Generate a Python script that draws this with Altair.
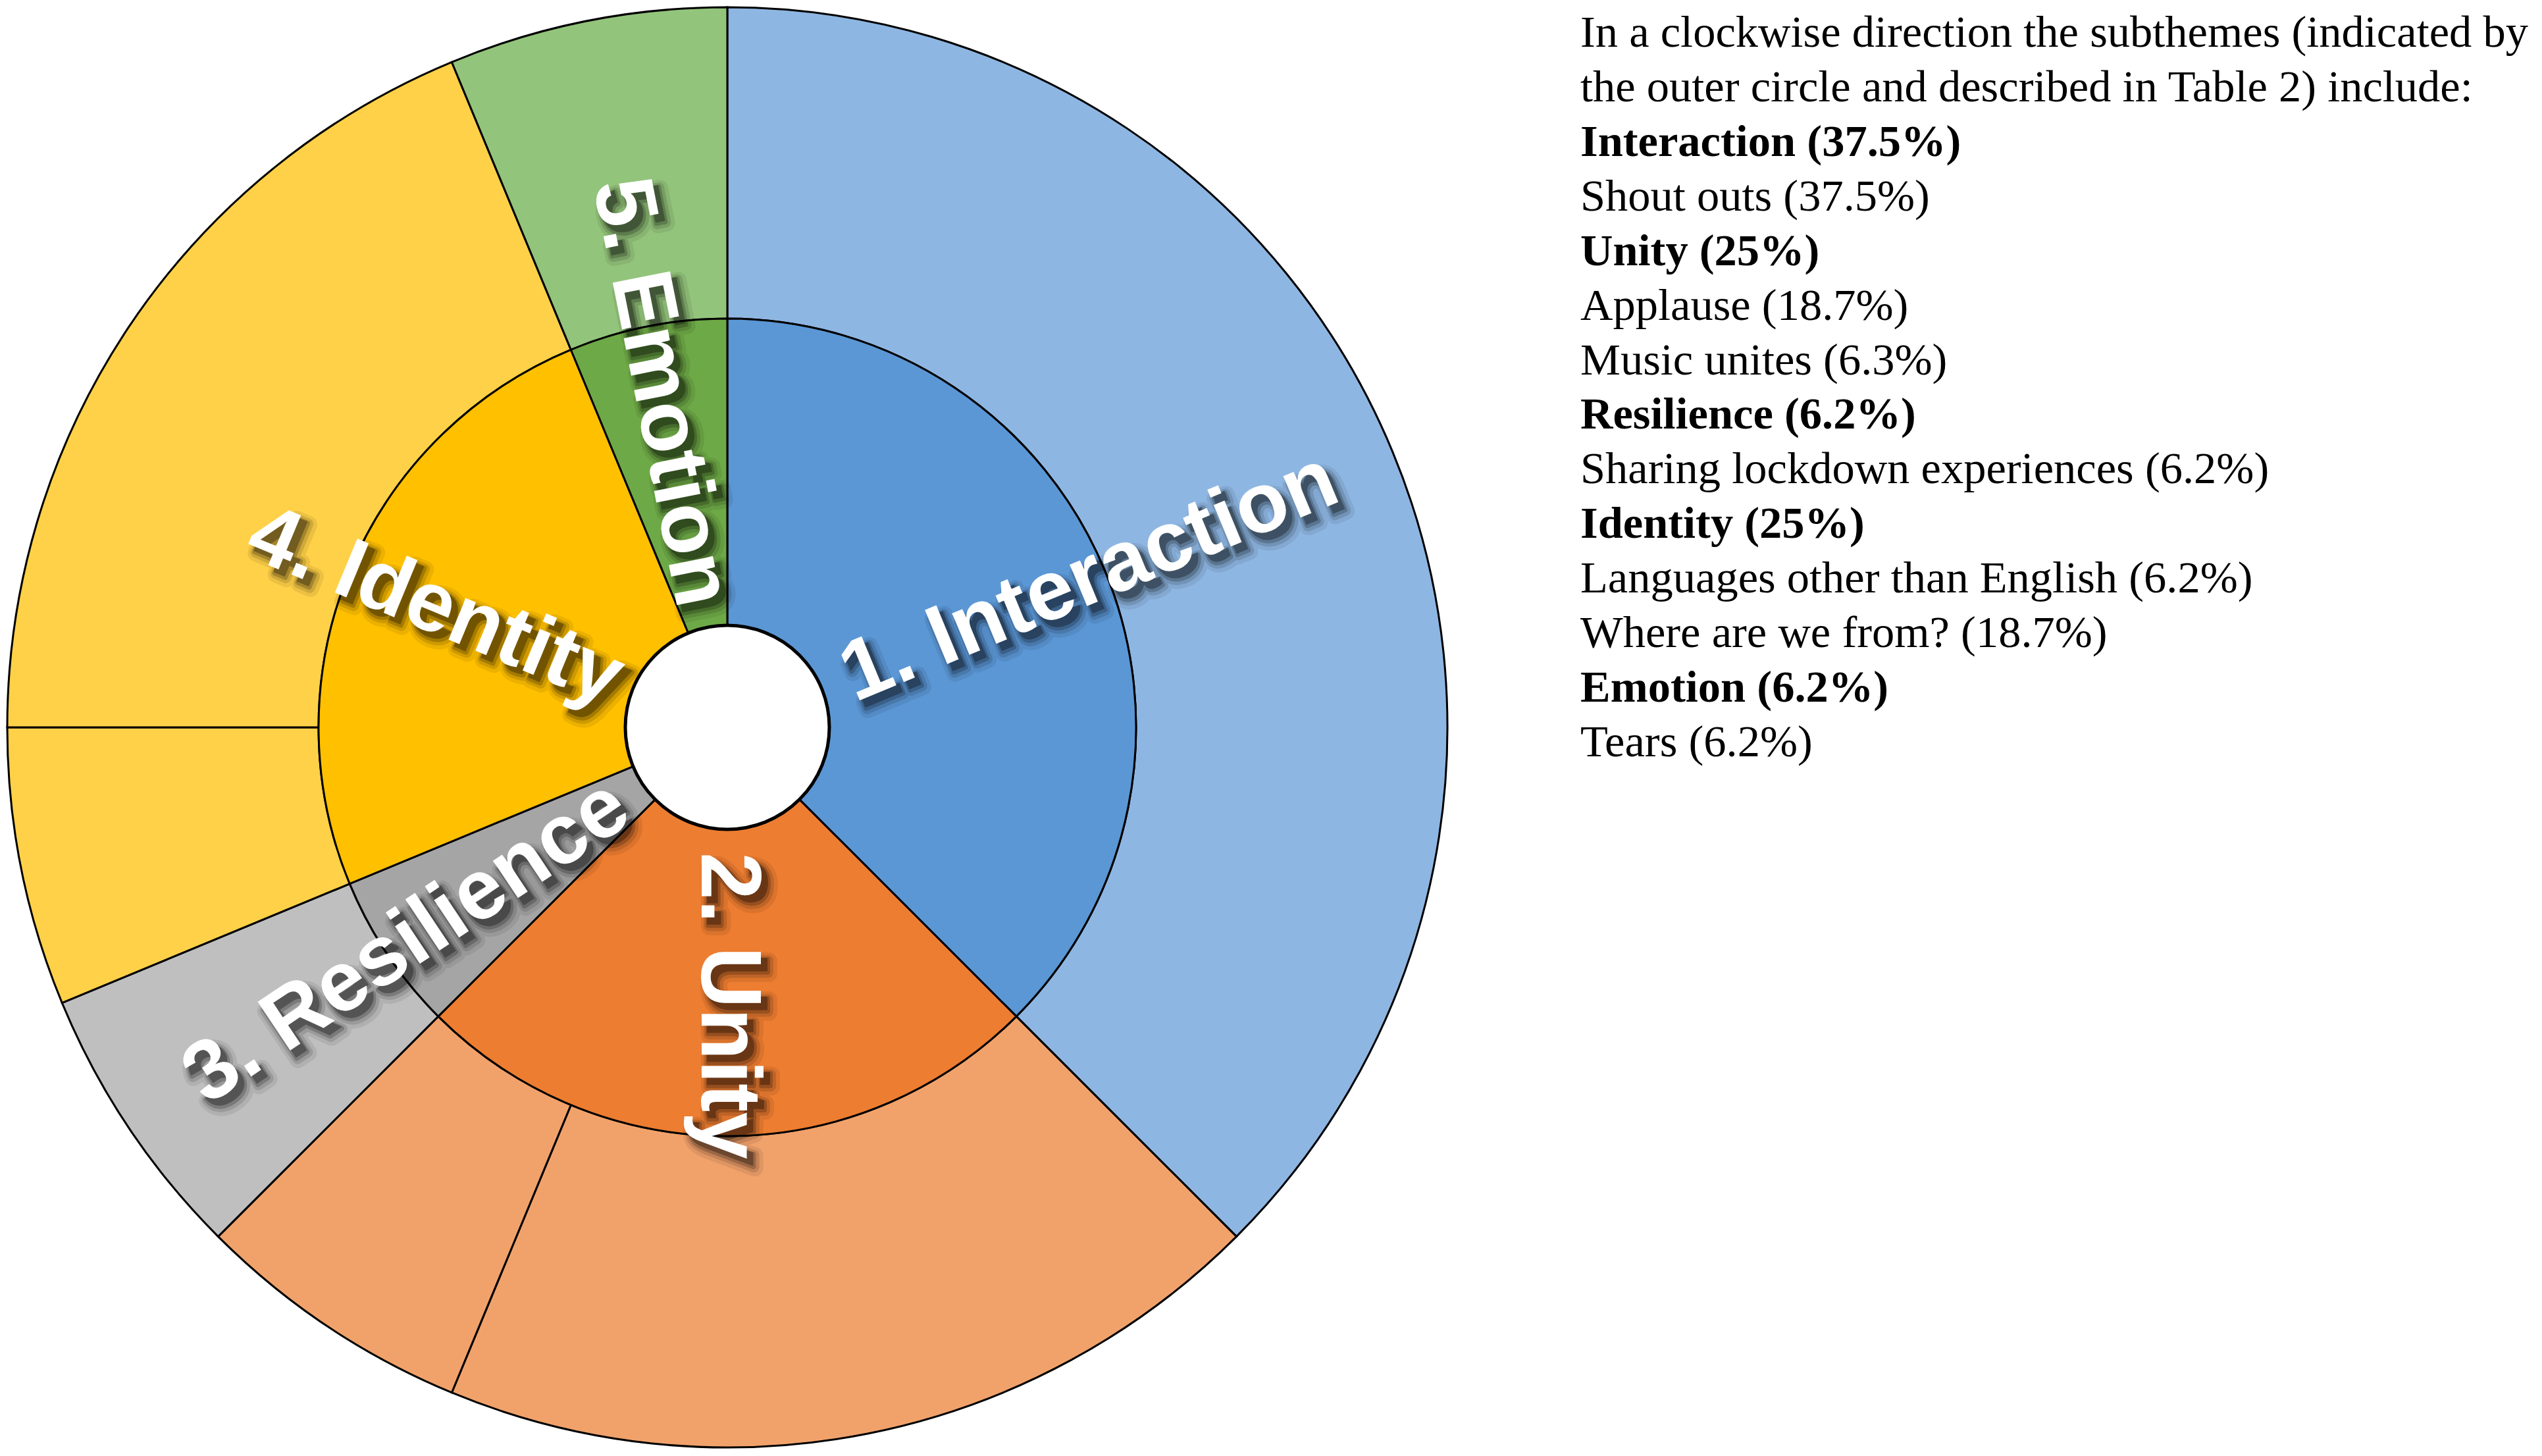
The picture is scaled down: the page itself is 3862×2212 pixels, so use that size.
import math
import altair as alt
import pandas as pd

# ---------------- data ----------------
themes = ["Interaction", "Unity", "Resilience", "Identity", "Emotion"]
theme_share = [37.5, 25.0, 6.25, 25.0, 6.25]
theme_labels = ["1. Interaction", "2. Unity", "3. Resilience", "4. Identity", "5. Emotion"]

subthemes = ["Shout outs", "Applause", "Music unites", "Sharing lockdown experiences",
             "Languages other than English", "Where are we from?", "Tears"]
sub_parent = ["Interaction", "Unity", "Unity", "Resilience", "Identity", "Identity", "Emotion"]
sub_share = [37.5, 18.75, 6.25, 6.25, 6.25, 18.75, 6.25]

legend_lines = [
    "In a clockwise direction the subthemes (indicated by",
    "the outer circle and described in Table 2) include:",
    "Interaction (37.5%)",
    "Shout outs (37.5%)",
    "Unity (25%)",
    "Applause (18.7%)",
    "Music unites (6.3%)",
    "Resilience (6.2%)",
    "Sharing lockdown experiences (6.2%)",
    "Identity (25%)",
    "Languages other than English (6.2%)",
    "Where are we from? (18.7%)",
    "Emotion (6.2%)",
    "Tears (6.2%)",
]
legend_bold = [False, False, True, False, True, False, False, True, False, True, False, False, True, False]

# ---------------- styles ----------------
inner_colors = ["#5B97D5", "#ED7D31", "#A5A5A5", "#FFC000", "#6EA947"]
outer_colors = ["#8EB6E2", "#F1A26B", "#BFBFBF", "#FFD148", "#93C47B"]
CX, CY = 1097, 1097
R_HOLE, R_MID, R_OUT = 155, 621, 1094
label_radius = {"Interaction": 595, "Unity": 423, "Resilience": 586, "Identity": 480, "Emotion": 519}
label_outward = {"Interaction": True, "Unity": True, "Resilience": False, "Identity": False, "Emotion": False}
LABEL_FONT = "Liberation Sans"
LABEL_SIZE = 129
shadow_steps = [(12, 14, 26, 0.07), (11, 13, 16, 0.12), (10, 12, 8, 0.2), (9, 10, 2, 0.3)]

inner_df = pd.DataFrame({"theme": themes, "share": theme_share, "label": theme_labels, "k": range(len(themes))})
outer_df = pd.DataFrame({"sub": subthemes, "parent": sub_parent, "share": sub_share, "k": range(len(subthemes))})
leg_df = pd.DataFrame({"line": legend_lines, "bold": legend_bold, "i": range(len(legend_lines))})

theta_scale = alt.Scale(domain=[0, 100])

inner = alt.Chart(inner_df).mark_arc(
    radius=R_MID, radius2=R_HOLE, stroke="black", strokeWidth=3
).encode(
    x=alt.value(CX), y=alt.value(CY),
    theta=alt.Theta("share:Q", stack=True, scale=theta_scale),
    order=alt.Order("k:Q"),
    color=alt.Color("theme:N", scale=alt.Scale(domain=themes, range=inner_colors), legend=None),
)

outer = alt.Chart(outer_df).mark_arc(
    radius=R_OUT, radius2=R_MID, stroke="black", strokeWidth=3
).encode(
    x=alt.value(CX), y=alt.value(CY),
    theta=alt.Theta("share:Q", stack=True, scale=theta_scale),
    order=alt.Order("k:Q"),
    color=alt.Color("parent:N", scale=alt.Scale(domain=themes, range=outer_colors), legend=None),
)

hole = alt.Chart(pd.DataFrame({"h": [1]})).mark_arc(
    radius=R_HOLE, theta=0, theta2=2 * math.pi, fill="white", stroke="black", strokeWidth=5
).encode(x=alt.value(CX), y=alt.value(CY))

lab_base = alt.Chart(inner_df).transform_window(
    cum="sum(share)", sort=[alt.SortField("k")], frame=[None, 0]
).transform_calculate(mid="datum.cum - datum.share / 2")

shadow_layers = []
text_layers = []
cum = 0.0
for t, s in zip(themes, theme_share):
    mid_deg = (cum + s / 2) * 3.6
    cum += s
    rot = (mid_deg - 90) % 360 if label_outward[t] else (mid_deg + 90) % 360
    a = math.radians(rot)
    sub = lab_base.transform_filter(alt.datum.theme == t)
    enc = dict(
        x=alt.value(CX), y=alt.value(CY),
        theta=alt.Theta("mid:Q", stack=None, scale=theta_scale),
        text=alt.Text("label:N"),
    )
    common = dict(radius=label_radius[t], angle=rot, font=LABEL_FONT, fontSize=LABEL_SIZE,
                  fontWeight="bold", align="center", baseline="middle")
    for ox, oy, sw, op in shadow_steps:
        dx = ox * math.cos(a) + oy * math.sin(a)
        dy = -ox * math.sin(a) + oy * math.cos(a)
        shadow_layers.append(sub.mark_text(
            dx=dx, dy=dy, fill="black", stroke="black", strokeWidth=sw,
            strokeJoin="round", opacity=op, **common
        ).encode(**enc))
    text_layers.append(sub.mark_text(fill="white", **common).encode(**enc))

y_scale = alt.Scale(domain=[0, len(legend_lines) - 1], range=[63, 1141])
legend_layers = []
for b in (True, False):
    legend_layers.append(
        alt.Chart(leg_df).transform_filter(alt.datum.bold == b).mark_text(
            align="left", baseline="alphabetic", font="Liberation Serif", fontSize=68.5,
            fontWeight="bold" if b else "normal", color="black"
        ).encode(
            x=alt.value(2393),
            y=alt.Y("i:Q", scale=y_scale, axis=None),
            text=alt.Text("line:N"),
        )
    )

chart = alt.layer(
    outer, inner, hole, *shadow_layers, *text_layers, *legend_layers
).resolve_scale(color="independent").properties(
    width=3846, height=2196, padding=0, autosize="none", background="white"
).configure_view(strokeWidth=0)

chart.save("out.html", embed_options={"renderer": "svg", "actions": False})
